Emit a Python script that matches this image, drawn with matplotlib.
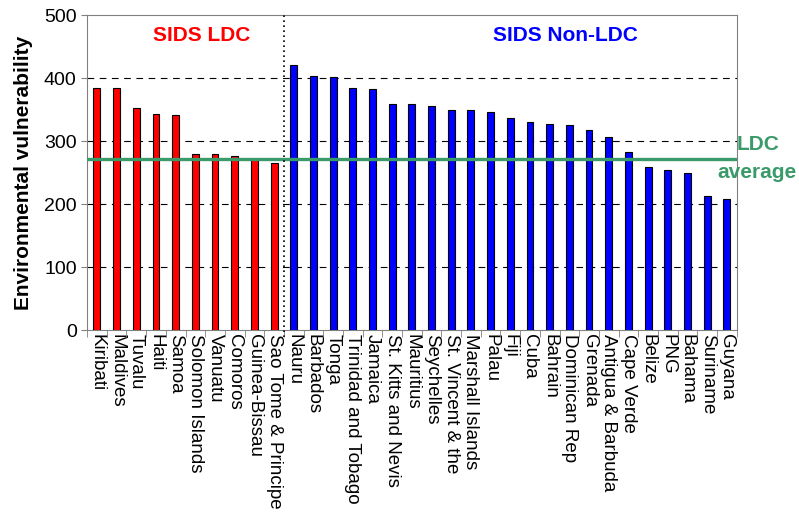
import matplotlib.pyplot as plt

plt.rcParams['font.family'] = ['Liberation Sans', 'DejaVu Sans']

# SIDS least developed countries
ldc_names = ["Kiribati", "Maldives", "Tuvalu", "Haiti", "Samoa", "Solomon Islands",
             "Vanuatu", "Comoros", "Guinea-Bissau", "Sao Tome & Principe"]
ldc_values = [385, 384, 352, 343, 341, 280, 280, 277, 271, 265]

# SIDS non-LDC
non_names = ["Nauru", "Barbados", "Tonga", "Trinidad and Tobago", "Jamaica",
             "St. Kitts and Nevis", "Mauritius", "Seychelles", "St. Vincent & the",
             "Marshall Islands", "Palau", "Fiji", "Cuba", "Bahrain", "Dominican Rep",
             "Grenada", "Antigua & Barbuda", "Cape Verde", "Belize", "PNG", "Bahama",
             "Suriname", "Guyana"]
non_values = [421, 403, 401, 384, 382, 359, 359, 356, 350, 349, 347, 336, 331,
              327, 325, 317, 307, 283, 259, 254, 249, 213, 208]

ldc_average = 272

green = '#3a9a6a'

fig = plt.figure(figsize=(7.99, 5.2), dpi=100)
ax = fig.add_axes([0.109, 0.365, 0.813, 0.606])

n_ldc = len(ldc_names)
x_ldc = list(range(n_ldc))
x_non = list(range(n_ldc, n_ldc + len(non_names)))

ax.bar(x_ldc, ldc_values, width=0.35, color='#ff0000', edgecolor='black', linewidth=0.8, zorder=3)
ax.bar(x_non, non_values, width=0.35, color='#0000ff', edgecolor='black', linewidth=0.8, zorder=3)

ax.axhline(ldc_average, color=green, linewidth=2.4, zorder=4)
ax.axvline(n_ldc - 0.5, ymin=-0.02, ymax=1, color='black', linestyle=(0, (1, 2)),
           linewidth=1.2, clip_on=False, zorder=5)

ax.set_xlim(-0.5, n_ldc + len(non_names) - 0.5)
ax.set_ylim(0, 500)
ax.set_yticks([0, 100, 200, 300, 400, 500])
ax.tick_params(axis='y', labelsize=14, length=4, color='#808080')
for y in [100, 200, 300, 400]:
    ax.axhline(y, color='black', linestyle=(0, (6, 5)), linewidth=0.8, zorder=1)

ax.set_xticks(x_ldc + x_non)
ax.set_xticklabels(ldc_names + non_names, rotation=270, fontsize=13.5, ha='center', va='top')
ax.tick_params(axis='x', length=0, pad=3)
# tick marks between categories
ax.set_xticks([i - 0.5 for i in range(n_ldc + len(non_names) + 1)], minor=True)
ax.tick_params(axis='x', which='minor', length=5, color='#808080')

for s in ax.spines.values():
    s.set_color('#808080')

ax.set_ylabel("Environmental vulnerability", fontsize=15, fontweight='bold', labelpad=8)

ax.text(5.3, 468, "SIDS LDC", color='#ff0000', fontsize=15, fontweight='bold', ha='center', va='center')
ax.text(23.8, 468, "SIDS Non-LDC", color='#0000ff', fontsize=15, fontweight='bold', ha='center', va='center')
fig.text(737 / 799, 1 - 144 / 520, "LDC", color=green, fontsize=15, fontweight='bold',
         ha='left', va='center')
fig.text(797 / 799, 1 - 173 / 520, "average", color=green, fontsize=15, fontweight='bold',
         ha='right', va='center')

fig.savefig("out.png", dpi=100)
